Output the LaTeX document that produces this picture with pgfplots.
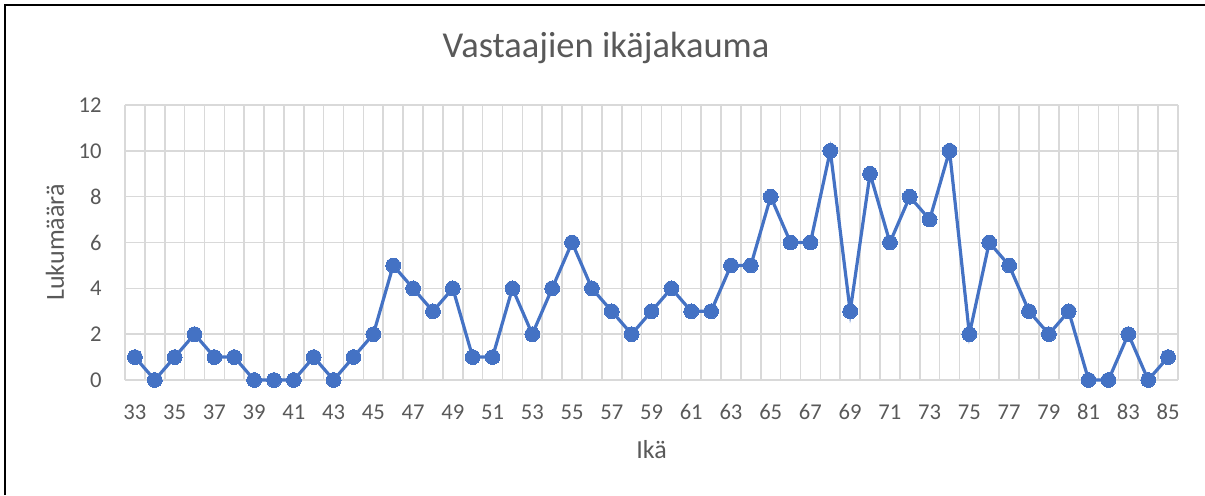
\documentclass[border=0pt]{standalone}
\usepackage{fontspec}
\setmainfont{Carlito}
\usepackage{pgfplots}
\pgfplotsset{compat=1.18}
\definecolor{exblue}{HTML}{4472C4}
\definecolor{exgrid}{HTML}{D9D9D9}
\definecolor{extext}{HTML}{595959}
\begin{document}
\begin{tikzpicture}
\useasboundingbox (0,0) rectangle (602.5pt,247.5pt);
\draw[black, line width=1.1pt] (2.5pt,0pt) -- (2.5pt,245pt) -- (602.5pt,245pt);
\node[text=extext, font=\fontsize{18.25}{22}\selectfont] at (303pt,223.5pt) {Vastaajien ikäjakauma};
\begin{axis}[
  at={(62.5pt,57.5pt)}, anchor=south west,
  scale only axis, width=526.5pt, height=137.5pt,
  xmin=32.5, xmax=85.5, ymin=0, ymax=12,
  xtick={33,35,...,85},
  minor xtick={32.5,33.5,...,85.5},
  ytick={0,2,...,12},
  xmajorgrids=false, xminorgrids=true, ymajorgrids=true,
  grid style={exgrid, line width=0.8pt},
  minor grid style={exgrid, line width=0.8pt},
  axis line style={draw=none},
  major tick length=0pt, minor tick length=0pt,
  clip=false,
  /pgf/number format/assume math mode=true,
  tick label style={text=extext, font=\fontsize{11.3}{13}\selectfont},
  xticklabel style={anchor=center, inner sep=0pt, yshift=-16pt},
  yticklabel style={anchor=east, inner sep=0pt, xshift=-11.5pt},
  xlabel={Ikä},
  ylabel={Lukumäärä},
  every axis x label/.style={at={(axis description cs:0.5,-0.2545)}, anchor=center, text=extext, font=\fontsize{13}{15}\selectfont},
  every axis y label/.style={at={(axis description cs:-0.0665,0.5)}, rotate=90, anchor=center, text=extext, font=\fontsize{13}{15}\selectfont},
]
\addplot[exblue, line width=1.6pt, mark=*, mark size=3.7pt, mark options={fill=exblue, draw=exblue, line width=0pt}] coordinates {
(33,1)(34,0)(35,1)(36,2)(37,1)(38,1)(39,0)(40,0)(41,0)(42,1)(43,0)(44,1)(45,2)(46,5)(47,4)(48,3)(49,4)(50,1)(51,1)(52,4)(53,2)(54,4)(55,6)(56,4)(57,3)(58,2)(59,3)(60,4)(61,3)(62,3)(63,5)(64,5)(65,8)(66,6)(67,6)(68,10)(69,3)(70,9)(71,6)(72,8)(73,7)(74,10)(75,2)(76,6)(77,5)(78,3)(79,2)(80,3)(81,0)(82,0)(83,2)(84,0)(85,1)
};
\end{axis}
\end{tikzpicture}
\end{document}
